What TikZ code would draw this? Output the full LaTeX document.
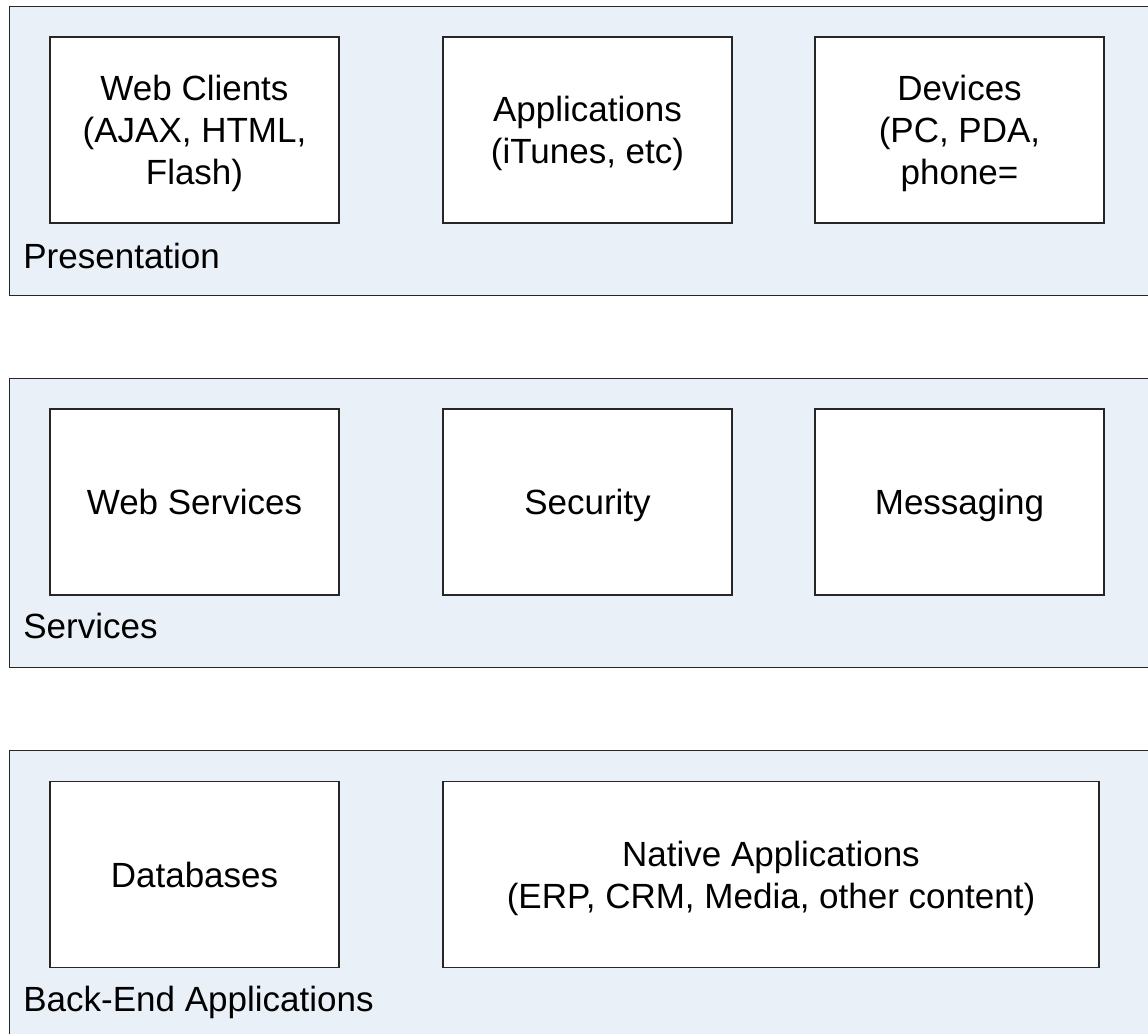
\documentclass[tikz,border=0pt]{standalone}
\usepackage{fontspec}
\setmainfont{Liberation Sans}
\usepackage{xcolor}
\definecolor{layerbg}{RGB}{234,240,248}

\begin{document}
\begin{tikzpicture}[
  x=0.5pt, y=-0.5pt,
  layer/.style={rectangle, draw=black!85, line width=0.7pt, fill=layerbg, anchor=north west, minimum width=580pt, minimum height=144.5pt, inner sep=0pt},
  comp/.style={rectangle, draw=black!85, line width=0.7pt, fill=white, minimum width=144.5pt, minimum height=93pt, align=center, inner sep=2pt, text depth=0pt, font=\fontsize{17.5}{21}\selectfont},
  wide/.style={comp, minimum width=328pt},
  tag/.style={anchor=base west, inner sep=0pt, font=\fontsize{17.5}{21}\selectfont}
]
\useasboundingbox (0,0) rectangle (1148,1034);
\clip (0,0) rectangle (1148,1034);
% three horizontal tiers
\node[layer] (pres) at (9,6) {};
\node[layer] (serv) at (9,378) {};
\node[layer] (back) at (9,750) {};
\node[tag] (prestag) at (23,268) {Presentation};
\node[tag] (servtag) at (23,638) {Services};
\node[tag] (backtag) at (23,1011) {Back-End Applications};
% presentation tier
\node[comp] (webcli) at (194.5,130) {Web Clients\\(AJAX, HTML,\\Flash)};
\node[comp] (apps) at (587.5,130) {Applications\\(iTunes, etc)};
\node[comp] (devices) at (959.5,130) {Devices\\(PC, PDA,\\phone=};
% services tier
\node[comp] (websvc) at (194.5,502) {Web Services};
\node[comp] (security) at (587.5,502) {Security};
\node[comp] (messaging) at (959.5,502) {Messaging};
% back-end tier
\node[comp] (db) at (194.5,874.5) {Databases};
\node[wide] (native) at (771,874.5) {Native Applications\\(ERP, CRM, Media, other content)};
\end{tikzpicture}
\end{document}
